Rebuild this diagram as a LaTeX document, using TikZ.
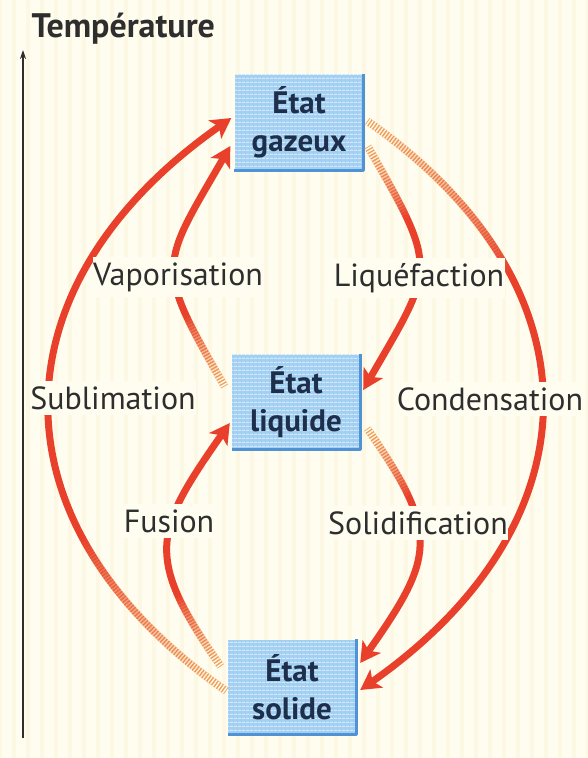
\documentclass[tikz,border=0pt]{standalone}
\usepackage{fontspec}
\setmainfont{PT Sans}
\usetikzlibrary{arrows.meta,decorations.markings,patterns.meta}

\definecolor{bgcream}{HTML}{FFFDF0}
\definecolor{bgstripe}{HTML}{FDF8E4}
\definecolor{arrowred}{HTML}{E8402A}
\definecolor{fadeorange}{HTML}{F2A65A}
\definecolor{boxblue}{HTML}{A3D0F2}
\definecolor{boxstripe}{HTML}{D4EAFA}
\definecolor{boxedge}{HTML}{4F92D6}
\definecolor{textnavy}{HTML}{1E2F4C}
\definecolor{textgray}{HTML}{2E2E2E}

\tikzset{
  etat/.style={minimum width=128pt, minimum height=95pt, inner sep=0pt,
    preaction={fill=boxblue},
    pattern={Lines[angle=0,distance=4pt,line width=1.3pt]}, pattern color=boxstripe,
    align=center, text=textnavy, font=\fontsize{31}{38}\selectfont\bfseries},
  phase/.style={fill=bgcream, inner xsep=0.5pt, inner ysep=5pt, text=textgray,
    font=\fontsize{32}{36}\selectfont},
  fadein/.style={postaction={decorate, decoration={markings,
    mark=between positions 0 and 0.3 step 3pt with {
      \pgfmathsetmacro\op{max(0,1-\pgfkeysvalueof{/pgf/decoration/mark info/distance from start}/(0.3*\pgfdecoratedpathlength))}
      \fill[fadeorange, opacity=\op] (-1.6pt,-3.8pt) rectangle (1.6pt,3.8pt);
      \fill[bgcream, opacity=\op] (-0.7pt,-3.8pt) rectangle (0.7pt,3.8pt);
    }}}},
  trans/.style={draw=arrowred, line width=7pt,
    -{Stealth[length=20pt,width=22pt,inset=5pt]}, fadein},
}

\begin{document}
\begin{tikzpicture}[x=1pt, y=-1pt, line join=round]

% -----------------------
% Background (scanned paper)
% -----------------------
\useasboundingbox (0,0) rectangle (588,758);
\fill[bgcream] (0,0) rectangle (588,758);
\fill[pattern={Lines[angle=90,distance=14pt,line width=4pt]}, pattern color=bgstripe]
  (0,0) rectangle (588,758);

% -----------------------
% Temperature axis
% -----------------------
\coordinate (axbot) at (23,738);
\coordinate (axtop) at (23,50);
\draw[textgray, line width=1.2pt, -{Stealth[length=9pt,width=6pt]}] (axbot) -- (axtop);
\node[anchor=base west, text=textgray, font=\fontsize{34}{36}\selectfont\bfseries]
  (temp) at (28,37) {Température};

% -----------------------
% The three states
% -----------------------
\node[etat] (gaz) at (299,122) {État\\gazeux};
\node[etat] (liq) at (296,402) {État\\liquide};
\node[etat] (sol) at (292,687) {État\\solide};

% darker edge on the right and bottom
\foreach \s in {gaz,liq,sol}{
  \draw[boxedge, line width=3pt] (\s.north east) -- (\s.south east) -- (\s.south west);
}

% -----------------------
% Changes of state
% -----------------------
% going up
\draw[trans] ([xshift=-3pt,yshift=-3pt]sol.west)
  to[out=145, in=215, looseness=1.3] ([xshift=-3pt,yshift=4pt]gaz.west);
\draw[trans] ([xshift=-8pt,yshift=17pt]liq.west)
  to[out=120, in=240, looseness=1.5] ([xshift=-4pt,yshift=-24pt]gaz.west);
\draw[trans] ([xshift=-8pt,yshift=22pt]sol.west)
  to[out=125, in=235, looseness=1.4] ([xshift=-2pt,yshift=-21pt]liq.west);

% going down
\draw[trans] ([xshift=5pt]gaz.east)
  to[out=-35, in=35, looseness=1.3] ([xshift=4pt,yshift=-3pt]sol.east);
\draw[trans] ([xshift=5pt,yshift=-26pt]gaz.east)
  to[out=-60, in=60, looseness=1.5] ([xshift=3pt,yshift=12pt]liq.east);
\draw[trans] ([xshift=8pt,yshift=-28pt]liq.east)
  to[out=-55, in=55, looseness=1.4] ([xshift=4pt,yshift=24pt]sol.east);

% -----------------------
% Labels
% -----------------------
\node[phase] (vap)  at (178,277) {Vaporisation};
\node[phase] (liqf) at (419,278) {Liquéfaction};
\node[phase] (subl) at (113,398) {Sublimation};
\node[phase] (cond) at (490,399) {Condensation};
\node[phase] (fus)  at (169,521) {Fusion};
\node[phase] (soli) at (418,523) {Solidification};

\end{tikzpicture}
\end{document}
